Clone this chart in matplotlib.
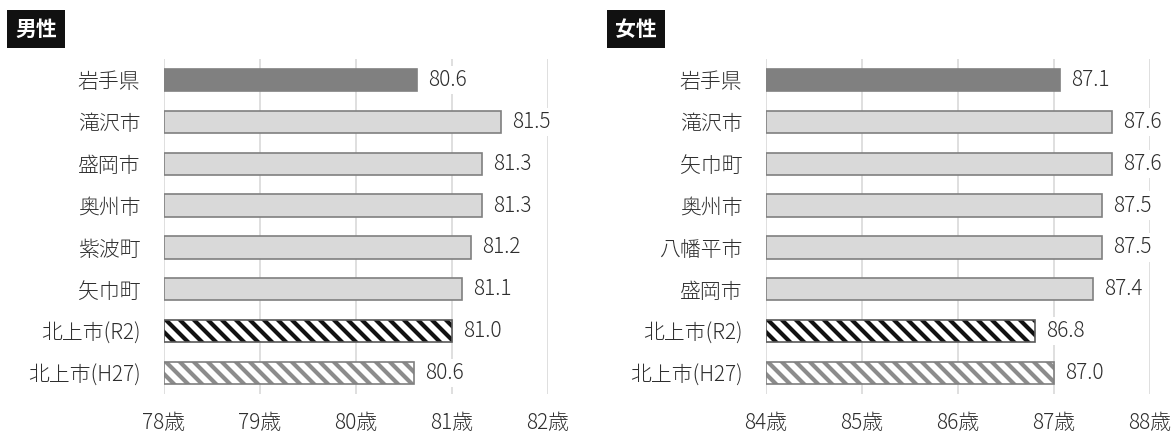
import matplotlib
matplotlib.use("Agg")
import matplotlib.pyplot as plt
import numpy as np

DPI = 84
S = 100 / DPI  # keep pixel sizes as at 100 dpi

plt.rcParams['font.family'] = ['Noto Sans CJK JP', 'DejaVu Sans']
plt.rcParams['hatch.linewidth'] = 3.0 * S

# ---- data ----
male_labels = ["岩手県", "滝沢市", "盛岡市", "奥州市", "紫波町", "矢巾町", "北上市(R2)", "北上市(H27)"]
male_values = [80.64, 81.51, 81.31, 81.31, 81.2, 81.1, 81.0, 80.6]
male_text = ["80.6", "81.5", "81.3", "81.3", "81.2", "81.1", "81.0", "80.6"]

female_labels = ["岩手県", "滝沢市", "矢巾町", "奥州市", "八幡平市", "盛岡市", "北上市(R2)", "北上市(H27)"]
female_values = [87.06, 87.6, 87.6, 87.5, 87.5, 87.41, 86.8, 87.0]
female_text = ["87.1", "87.6", "87.6", "87.5", "87.5", "87.4", "86.8", "87.0"]

male_ticks = [78, 79, 80, 81, 82]
female_ticks = [84, 85, 86, 87, 88]
kinds = ["pref", "city", "city", "city", "city", "city", "r2", "h27"]

TXT = "#2e2e2e"
GRID = "#d9d9d9"
FS = 15 * S

fig = plt.figure(figsize=(1174 / DPI, 436 / DPI), dpi=DPI)

def panel(rect, labels, values, texts, ticks, title, title_x):
    ax = fig.add_axes(rect)
    n = len(labels)
    y = np.arange(n)
    lo, hi = ticks[0], ticks[-1]
    lw = 1.2 * S
    for yi, v, k in zip(y, values, kinds):
        w = v - lo
        if k == "pref":
            ax.barh(yi, w, left=lo, height=0.53, color="#808080", edgecolor="#808080", linewidth=lw, zorder=3)
        elif k == "city":
            ax.barh(yi, w, left=lo, height=0.53, color="#d9d9d9", edgecolor="#7f7f7f", linewidth=lw, zorder=3)
        elif k == "r2":
            ax.barh(yi, w, left=lo, height=0.53, color="white", edgecolor="#111111", hatch="\\\\", linewidth=0, zorder=3)
            ax.barh(yi, w, left=lo, height=0.53, color="none", edgecolor="#595959", linewidth=lw, zorder=4)
        else:
            ax.barh(yi, w, left=lo, height=0.53, color="white", edgecolor="#8c8c8c", hatch="\\\\", linewidth=0, zorder=3)
            ax.barh(yi, w, left=lo, height=0.53, color="none", edgecolor="#7f7f7f", linewidth=lw, zorder=4)
    for yi, v, t in zip(y, values, texts):
        ax.annotate(t, xy=(v, yi), xytext=(8 * S, 0), textcoords="offset points",
                    ha="left", va="center", fontsize=FS, color=TXT, zorder=5, fontweight="light",
                    bbox=dict(boxstyle="square,pad=0.15", fc="white", ec="none"))
    for t in ticks:
        ax.axvline(t, color=GRID, linewidth=lw, zorder=1)
    ax.set_xlim(lo, hi)
    ax.set_ylim(n - 0.5, -0.5)
    ax.set_yticks(y)
    ax.set_yticklabels(labels, fontsize=FS, color=TXT, fontweight="light")
    ax.set_xticks(ticks)
    ax.set_xticklabels([f"{t}歳" for t in ticks], fontsize=FS, color=TXT, fontweight="light")
    ax.tick_params(axis="y", length=0, pad=17 * S)
    ax.tick_params(axis="x", length=0, pad=13 * S)
    for s in ax.spines.values():
        s.set_visible(False)
    fig.text(title_x, 1 - 29 / 436, title, fontsize=15 * S, fontweight="bold", color="white",
             ha="left", va="center",
             bbox=dict(boxstyle="square,pad=0.4", fc="#111111", ec="none"))
    return ax

bottom = 1 - 394 / 436
top = 1 - 59 / 436
panel([164 / 1174, bottom, (548 - 164) / 1174, top - bottom], male_labels, male_values, male_text,
      male_ticks, "男性", 15 / 1174)
panel([766 / 1174, bottom, (1150 - 766) / 1174, top - bottom], female_labels, female_values, female_text,
      female_ticks, "女性", 615 / 1174)

fig.savefig("out.png", dpi=DPI)
